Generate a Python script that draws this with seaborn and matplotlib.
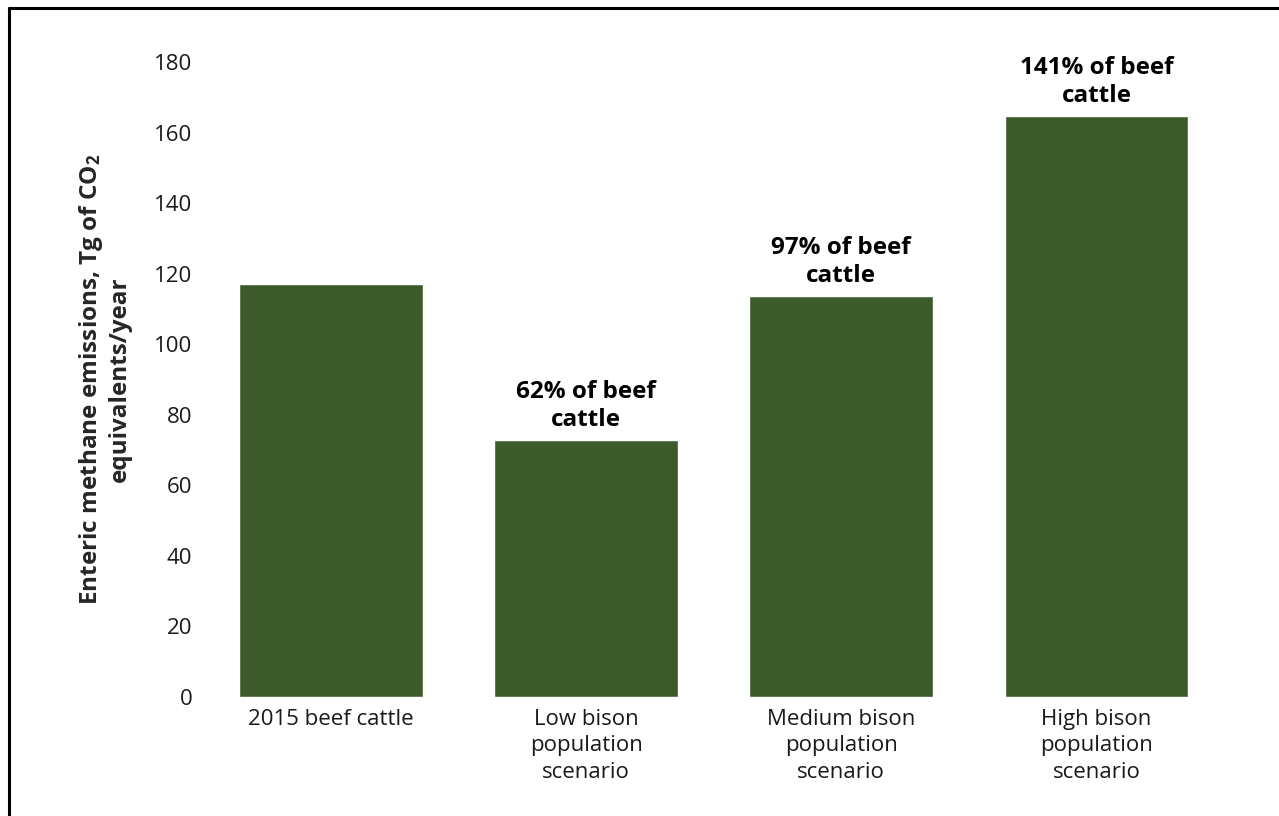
import matplotlib
matplotlib.use("Agg")
import matplotlib.pyplot as plt
import seaborn as sns
import pandas as pd
from matplotlib.lines import Line2D

categories = ["2015 beef cattle", "Low bison\npopulation\nscenario",
              "Medium bison\npopulation\nscenario", "High bison\npopulation\nscenario"]
emissions = [117.0, 72.8, 113.6, 164.6]
labels = ["", "62% of beef\ncattle", "97% of beef\ncattle", "141% of beef\ncattle"]
yticks = [0, 20, 40, 60, 80, 100, 120, 140, 160, 180]

sns.set_theme(style="white")
plt.rcParams["font.family"] = ["Open Sans", "DejaVu Sans"]
plt.rcParams["mathtext.default"] = "regular"

df = pd.DataFrame({"category": categories, "emissions": emissions})

fig = plt.figure(figsize=(12.79, 8.16), dpi=100)
ax = fig.add_axes([0.159, 0.146, 0.798, 0.778])

sns.barplot(data=df, x="category", y="emissions", color="#3d5a2b",
            saturation=1, width=0.72, ax=ax)

for i, (v, lab) in enumerate(zip(emissions, labels)):
    if lab:
        ax.annotate(lab, (i, v), xytext=(0, 6), textcoords="offset points",
                    ha="center", va="bottom", fontsize=17.5, fontweight="bold",
                    color="black", linespacing=1.2)

ax.set_ylim(0, 180)
ax.set_xlim(-0.5, 3.5)
ax.set_yticks(yticks)
ax.tick_params(axis="both", length=0, labelsize=16, colors="#1a1a1a")
ax.tick_params(axis="y", pad=8)
ax.tick_params(axis="x", pad=9)
ax.set_xlabel("")
ax.set_ylabel("Enteric methane emissions, Tg of CO$_2$\nequivalents/year",
              fontsize=17.5, fontweight="bold", labelpad=16, linespacing=1.15)
for t in ax.get_xticklabels():
    t.set_linespacing(1.32)
sns.despine(ax=ax, left=True, bottom=True)

# frame lines around the figure (left and top visible)
fig.add_artist(Line2D([0.0071, 0.0071], [0, 0.9902], transform=fig.transFigure,
                      color="black", lw=2.2))
fig.add_artist(Line2D([0.0071, 1.0], [0.9902, 0.9902], transform=fig.transFigure,
                      color="black", lw=2.2))

fig.savefig("out.png", dpi=100, facecolor="white")
